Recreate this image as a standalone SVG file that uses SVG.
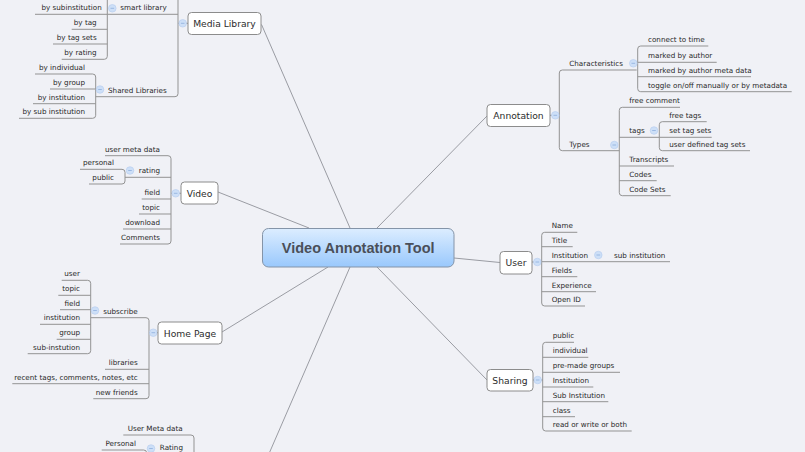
<svg xmlns="http://www.w3.org/2000/svg" width="805" height="452" viewBox="0 0 805 452">
<style>
.t{font-family:"DejaVu Sans","Liberation Sans",sans-serif;font-size:7.2px;fill:#282828}
.e{text-anchor:end}
.nl{font-family:"DejaVu Sans","Liberation Sans",sans-serif;font-size:9.2px;fill:#2c2c2c;text-anchor:middle}
.nr{fill:#ffffff;stroke:#8c8c8c;stroke-width:1}
.ln{fill:none;stroke:#939393;stroke-width:1}
.cl{fill:none;stroke:#9a9ca3;stroke-width:1}
</style>
<defs>
<linearGradient id="cg" x1="0" y1="0" x2="0" y2="1">
<stop offset="0" stop-color="#dcedff"/>
<stop offset="1" stop-color="#99c8fc"/>
</linearGradient>
<g id="col">
<circle r="3.8" fill="#cddff7" stroke="#b4cbee" stroke-width="0.6"/>
<line x1="-1.8" y1="0" x2="1.8" y2="0" stroke="#8eaedd" stroke-width="0.8"/>
</g>
</defs>
<rect width="805" height="452" fill="#f0f1f6"/>

<g id="connectors">
<path class="cl" d="M350 228L261.5 24.5M377 228L487 116M309 228L218 192M454 258L500 262.5M328 267L222 332M377 267L487 380M350 267L268 456"/>
<path class="ln" d="M178 -5V93.7Q178 96.7 175 96.7H95.7M107.3 14.3H178M178 23.3H188"/>
<path class="ln" d="M107.3 -5V56.3Q107.3 59.3 104.3 59.3H61.7M35 14.3H107.3M71.7 29.3H107.3M53 44H107.3"/>
<path class="ln" d="M35 74H92.7Q95.7 74 95.7 77V115.3Q95.7 118.3 92.7 118.3H19M50 89H95.7M33 103.7H95.7"/>
<path class="ln" d="M105 155.7H168Q171 155.7 171 158.7V241Q171 244 168 244H120M125 177.3H171M141.7 199H171M139 214H171M123 229H171M171 193.3H181"/>
<path class="ln" d="M80 169.3H122Q125 169.3 125 172.3V181Q125 184 122 184H89"/>
<path class="ln" d="M90.7 317.7H146Q149 317.7 149 320.7V395.7Q149 398.7 146 398.7H93.3M105 369.3H149M12.3 383.7H149M149 332.7H158"/>
<path class="ln" d="M61.7 280.3H87.7Q90.7 280.3 90.7 283.3V350.7Q90.7 353.7 87.7 353.7H27.7M58.3 295.3H90.7M60 309.7H90.7M40 324.3H90.7M56.7 339.3H90.7"/>
<path class="ln" d="M123.3 435H191Q194 435 194 438V460M101.7 450H143.7Q146.7 450 146.7 453V460"/>
<path class="ln" d="M636.7 70H562.3Q559.3 70 559.3 73V147.7Q559.3 150.7 562.3 150.7H619.3M550 115.3H559.3"/>
<path class="ln" d="M708.3 46H640.7Q637.7 46 637.7 49V88.7Q637.7 91.7 640.7 91.7H791.7M637.7 62.3H716.7M637.7 76.7H751"/>
<path class="ln" d="M680 107.3H622.3Q619.3 107.3 619.3 110.3V192.7Q619.3 195.7 622.3 195.7H670.7M619.3 137.3H659.3M619.3 166H674M619.3 180.7H656.7"/>
<path class="ln" d="M706.7 121.7H662.3Q659.3 121.7 659.3 124.7V147.7Q659.3 150.7 662.3 150.7H750M659.3 137.3H711.7"/>
<path class="ln" d="M577.3 232.3H544.7Q541.7 232.3 541.7 235.3V303Q541.7 306 544.7 306H585M541.7 246.7H572.7M541.7 261.7H670M541.7 276.7H577.3M541.7 291.7H596M532 262H541.7"/>
<path class="ln" d="M574 342.3H545.7Q542.7 342.3 542.7 345.3V428Q542.7 431 545.7 431H631.7M542.7 357.3H588.3M542.7 372.3H620M542.7 387H593.3M542.7 401.7H608.3M542.7 416.7H575M533 380H542.7"/>
<use href="#col" x="182.7" y="23.3"/>
<use href="#col" x="112.3" y="8.3"/>
<use href="#col" x="100" y="89.5"/>
<use href="#col" x="175.7" y="193.3"/>
<use href="#col" x="130" y="170.5"/>
<use href="#col" x="153.3" y="332.7"/>
<use href="#col" x="95" y="310.5"/>
<use href="#col" x="151" y="448.5"/>
<use href="#col" x="555.3" y="115.3"/>
<use href="#col" x="633.3" y="63.3"/>
<use href="#col" x="614.3" y="145"/>
<use href="#col" x="654" y="130.5"/>
<use href="#col" x="537.3" y="262"/>
<use href="#col" x="598.3" y="255"/>
<use href="#col" x="537.7" y="380"/>
</g>

<g id="central">
<rect x="262.5" y="228.5" width="191.5" height="38.5" rx="6" fill="url(#cg)" stroke="#8494a8" stroke-width="1"/>
<text x="358.2" y="252.6" text-anchor="middle" style="font-family:'Liberation Sans','DejaVu Sans',sans-serif;font-weight:bold;font-size:14.5px;fill:#4a4f59">Video Annotation Tool</text>
</g>

<g id="media-library"><rect class="nr" x="188" y="12.5" width="73" height="22" rx="3.5"/><text class="nl" x="224.5" y="27.3">Media Library</text></g>
<g id="annotation"><rect class="nr" x="487" y="104.5" width="63" height="22" rx="3.5"/><text class="nl" x="518.5" y="119">Annotation</text></g>
<g id="video"><rect class="nr" x="181" y="182" width="37" height="22" rx="3.5"/><text class="nl" x="199.5" y="197">Video</text></g>
<g id="user"><rect class="nr" x="500" y="251.5" width="32" height="22.5" rx="3.5"/><text class="nl" x="516" y="265.5">User</text></g>
<g id="home-page"><rect class="nr" x="158" y="322" width="64" height="22" rx="3.5"/><text class="nl" x="190" y="336.5">Home Page</text></g>
<g id="sharing"><rect class="nr" x="487" y="369.5" width="46" height="21.5" rx="3.5"/><text class="nl" x="510" y="383.5">Sharing</text></g>

<g id="media-library-topics">
<g id="smart-library"><text class="t e" x="166.7" y="10.3">smart library</text></g>
<g id="ml-by-subinstitution"><text class="t e" x="101.7" y="10.3">by subinstitution</text></g>
<g id="ml-by-tag"><text class="t e" x="96.7" y="25.3">by tag</text></g>
<g id="ml-by-tag-sets"><text class="t e" x="96.7" y="40">by tag sets</text></g>
<g id="ml-by-rating"><text class="t e" x="96.7" y="55.3">by rating</text></g>
<g id="shared-libraries"><text class="t e" x="166.7" y="92.7">Shared Libraries</text></g>
<g id="sl-by-individual"><text class="t e" x="85" y="70">by individual</text></g>
<g id="sl-by-group"><text class="t e" x="85" y="85">by group</text></g>
<g id="sl-by-institution"><text class="t e" x="85" y="99.7">by institution</text></g>
<g id="sl-by-sub-institution"><text class="t e" x="85" y="114.3">by sub institution</text></g>
</g>

<g id="video-topics">
<g id="v-user-meta-data"><text class="t e" x="160" y="151.7">user meta data</text></g>
<g id="v-rating"><text class="t e" x="160" y="173.3">rating</text></g>
<g id="v-personal"><text class="t e" x="114" y="165.3">personal</text></g>
<g id="v-public"><text class="t e" x="114" y="180">public</text></g>
<g id="v-field"><text class="t e" x="160" y="195">field</text></g>
<g id="v-topic"><text class="t e" x="160" y="210">topic</text></g>
<g id="v-download"><text class="t e" x="160" y="225">download</text></g>
<g id="v-comments"><text class="t e" x="160" y="240">Comments</text></g>
</g>

<g id="home-topics">
<g id="h-subscribe"><text class="t e" x="137.7" y="313.7">subscribe</text></g>
<g id="h-user"><text class="t e" x="80" y="276.3">user</text></g>
<g id="h-topic"><text class="t e" x="80" y="291.3">topic</text></g>
<g id="h-field"><text class="t e" x="80" y="305.7">field</text></g>
<g id="h-institution"><text class="t e" x="80" y="320.3">institution</text></g>
<g id="h-group"><text class="t e" x="80" y="335.3">group</text></g>
<g id="h-sub-instution"><text class="t e" x="80" y="349.7">sub-instution</text></g>
<g id="h-libraries"><text class="t e" x="137.7" y="365.3">libraries</text></g>
<g id="h-recent"><text class="t e" x="137.7" y="379.7">recent tags, comments, notes, etc</text></g>
<g id="h-new-friends"><text class="t e" x="137.7" y="394.7">new friends</text></g>
</g>

<g id="bottom-topics">
<g id="b-user-meta-data"><text class="t e" x="182.7" y="431">User Meta data</text></g>
<g id="b-personal"><text class="t e" x="136" y="446">Personal</text></g>
<g id="b-rating"><text class="t e" x="183" y="450.3">Rating</text></g>
</g>

<g id="annotation-topics">
<g id="a-characteristics"><text class="t" x="569.3" y="66">Characteristics</text></g>
<g id="a-types"><text class="t" x="569.3" y="146.7">Types</text></g>
<g id="a-connect"><text class="t" x="648" y="42">connect to time</text></g>
<g id="a-marked"><text class="t" x="648" y="58.3">marked by author</text></g>
<g id="a-marked-meta"><text class="t" x="648" y="72.7">marked by author meta data</text></g>
<g id="a-toggle"><text class="t" x="648" y="87.7">toggle on/off manually or by metadata</text></g>
<g id="a-free-comment"><text class="t" x="629.3" y="103.3">free comment</text></g>
<g id="a-tags"><text class="t" x="629.3" y="133.3">tags</text></g>
<g id="a-free-tags"><text class="t" x="669.3" y="117.7">free tags</text></g>
<g id="a-set-tag-sets"><text class="t" x="669.3" y="133.3">set tag sets</text></g>
<g id="a-user-defined"><text class="t" x="669.3" y="146.7">user defined tag sets</text></g>
<g id="a-transcripts"><text class="t" x="629.3" y="162">Transcripts</text></g>
<g id="a-codes"><text class="t" x="629.3" y="176.7">Codes</text></g>
<g id="a-code-sets"><text class="t" x="629.3" y="191.7">Code Sets</text></g>
</g>

<g id="user-topics">
<g id="u-name"><text class="t" x="551.7" y="228.3">Name</text></g>
<g id="u-title"><text class="t" x="551.7" y="242.7">Title</text></g>
<g id="u-institution"><text class="t" x="551.7" y="257.7">Institution</text></g>
<g id="u-sub-institution"><text class="t" x="614" y="257.7">sub institution</text></g>
<g id="u-fields"><text class="t" x="551.7" y="272.7">Fields</text></g>
<g id="u-experience"><text class="t" x="551.7" y="287.7">Experience</text></g>
<g id="u-open-id"><text class="t" x="551.7" y="302">Open ID</text></g>
</g>

<g id="sharing-topics">
<g id="s-public"><text class="t" x="552.7" y="338.3">public</text></g>
<g id="s-individual"><text class="t" x="552.7" y="353.3">individual</text></g>
<g id="s-pre-made"><text class="t" x="552.7" y="368.3">pre-made groups</text></g>
<g id="s-institution"><text class="t" x="552.7" y="383">Institution</text></g>
<g id="s-sub-institution"><text class="t" x="552.7" y="397.7">Sub Institution</text></g>
<g id="s-class"><text class="t" x="552.7" y="412.7">class</text></g>
<g id="s-read-write"><text class="t" x="552.7" y="427">read or write or both</text></g>
</g>
</svg>
